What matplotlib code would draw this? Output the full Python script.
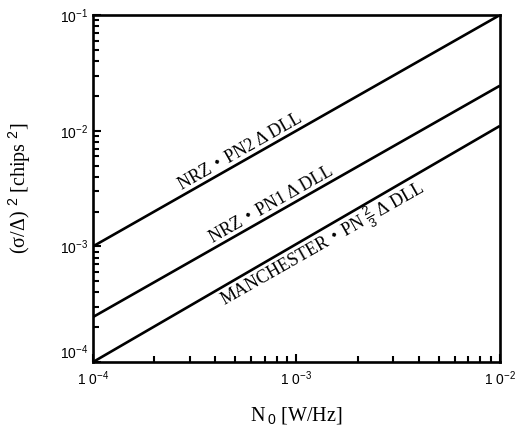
import numpy as np
import matplotlib.pyplot as plt
from matplotlib.ticker import LogLocator, NullFormatter, FixedLocator

# noise density end points [W/Hz]
n0 = [1e-4, 1e-2]
# tracking jitter variance for each loop
nrz_pn2 = [1e-3, 1e-1]
nrz_pn1 = [2.45e-4, 2.45e-2]
manchester = [1e-4, 1.1e-2]

curve_labels = ['NRZ・PN2 Δ DLL', 'NRZ・PN1 Δ DLL', 'MANCHESTER・PN']
label_tail = '$\\frac{2}{3}$ Δ DLL'
label_x = [2.82e-4, 4.02e-4, 4.07e-4]   # where each label starts
label_side = [1, 1, -1]                  # above / below its line

xticks = [1e-4, 1e-3, 1e-2]
xticklabels = ['1 0$^{-4}$', '1 0$^{-3}$', '1 0$^{-2}$']
yticks = [1e-4, 1e-3, 1e-2, 1e-1]
yticklabels = ['10$^{-4}$', '10$^{-3}$', '10$^{-2}$', '10$^{-1}$']

plt.rcParams['font.family'] = ['Liberation Serif', 'DejaVu Serif']
plt.rcParams['mathtext.fontset'] = 'custom'
plt.rcParams['mathtext.rm'] = 'Liberation Sans'

fig = plt.figure(figsize=(5.18, 4.30), dpi=100)
ax = fig.add_axes([0.1795, 0.158, 0.7855, 0.807])

series = [nrz_pn2, nrz_pn1, manchester]
for y in series:
	ax.plot(n0, y, color='black', lw=1.9, solid_capstyle='butt')

ax.set_xscale('log')
ax.set_yscale('log')
ax.set_xlim(1e-4, 1e-2)
ax.set_ylim(1e-4, 1e-1)

ax.xaxis.set_major_locator(FixedLocator(xticks))
ax.set_xticklabels(xticklabels, family='Liberation Sans', fontsize=10)
ax.yaxis.set_major_locator(FixedLocator(yticks))
ax.set_yticklabels(yticklabels, family='Liberation Sans', fontsize=10)
ax.get_yticklabels()[0].set_va('bottom')
ax.xaxis.set_minor_locator(LogLocator(base=10, subs=np.arange(2, 10)))
ax.yaxis.set_minor_locator(LogLocator(base=10, subs=np.arange(2, 10)))
ax.xaxis.set_minor_formatter(NullFormatter())
ax.yaxis.set_minor_formatter(NullFormatter())
ax.tick_params(which='both', direction='in', top=False, right=False, width=1.5)
ax.tick_params(which='major', length=6)
ax.tick_params(axis='x', which='major', pad=5)
ax.tick_params(which='minor', length=4)
for s in ax.spines.values():
	s.set_linewidth(1.9)

ax.set_xlabel('N$_{\\,0}$ [W/Hz]', fontsize=14.5, va='top')
ax.set_ylabel('(σ/Δ) $^{2}$ [chips $^{2}$]', fontsize=14.5)
ax.xaxis.set_label_coords(0.5, -0.125)
ax.yaxis.set_label_coords(-0.147, 0.5)

# label angle follows the lines on screen
p0 = ax.transData.transform((n0[0], nrz_pn2[0]))
p1 = ax.transData.transform((n0[1], nrz_pn2[1]))
ang = np.arctan2(p1[1] - p0[1], p1[0] - p0[0])
deg = np.degrees(ang)
fam = ['Liberation Serif', 'Noto Sans CJK JP']
fs = 13

r = fig.canvas.get_renderer()
for y, txt, xl, side in zip(series, curve_labels, label_x, label_side):
	yl = y[0] * xl / n0[0]
	off = 3.6 if side > 0 else -11.5
	ox, oy = -np.sin(ang) * off, np.cos(ang) * off
	ax.annotate(txt, (xl, yl), xytext=(ox, oy), textcoords='offset points',
		rotation=deg, rotation_mode='anchor', ha='left', va='baseline',
		fontsize=fs, family=fam)
	if side < 0:
		# fraction part continues right after "PN"
		tmp = fig.text(0, 0, txt, fontsize=fs, family=fam)
		w = tmp.get_window_extent(r).width * 72 / fig.dpi + 1.5
		tmp.remove()
		ax.annotate(label_tail, (xl, yl),
			xytext=(ox + w * np.cos(ang), oy + w * np.sin(ang)), textcoords='offset points',
			rotation=deg, rotation_mode='anchor', ha='left', va='baseline',
			fontsize=fs, family=fam)

fig.savefig('out.png', dpi=100)
